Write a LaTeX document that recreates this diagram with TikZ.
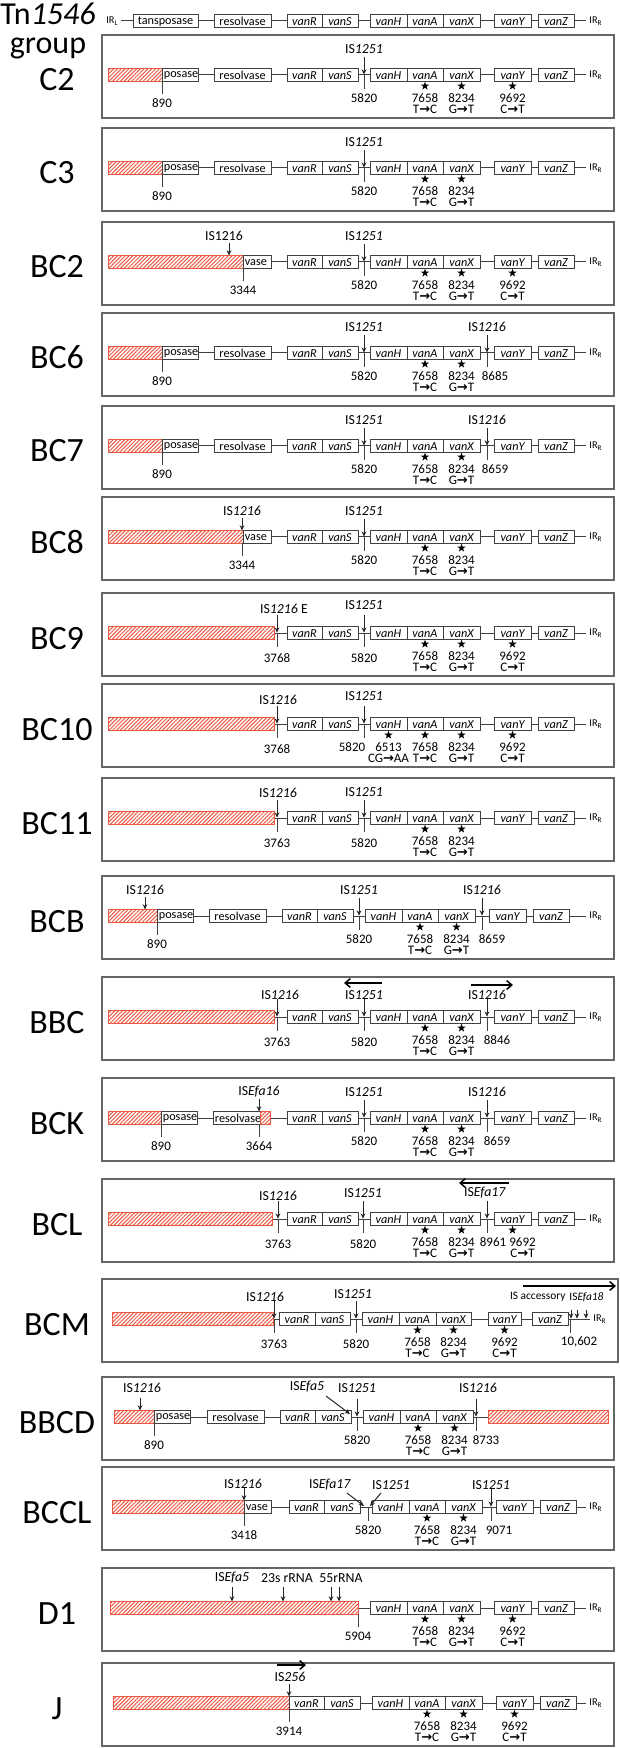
\documentclass[tikz,border=0pt]{standalone}
\usepackage{fontspec}
\setmainfont{Carlito}
\newfontfamily\symf{DejaVu Sans}
\usetikzlibrary{arrows.meta,patterns.meta,shapes.geometric}
\definecolor{hatchred}{RGB}{236,88,66}
\newcounter{nn}
\newcommand{\myra}{{\symf\bfseries →}}
\tikzset{
 gl/.style={draw=black!75, line width=0.5pt},
 gtxt/.style={font=\fontsize{6.1}{6}\selectfont\itshape, inner sep=0pt},
 ntxt/.style={font=\fontsize{6.5}{7}\selectfont, inner sep=0pt},
 istxt/.style={font=\fontsize{6.9}{7}\selectfont, inner sep=0pt},
 smtxt/.style={font=\fontsize{5.7}{6}\selectfont, inner sep=0pt},
 irtxt/.style={font=\fontsize{5.2}{6}\selectfont, inner sep=0pt},
 rowlab/.style={font=\fontsize{17}{18}\selectfont, inner sep=0pt},
 titlab/.style={font=\fontsize{16}{18}\selectfont, inner sep=0pt},
 hatchbox/.style={draw=hatchred, line width=0.5pt, pattern={Lines[angle=45,distance=1.35pt,line width=0.5pt]}, pattern color=hatchred},
 isarr/.style={draw=black!85, line width=0.5pt, -{Stealth[length=2.6pt,width=2.4pt]}},
 oarr/.style={draw=black, line width=0.75pt, -{Straight Barb[length=2.6pt,width=4.4pt]}},
 starn/.style={star, star points=5, star point ratio=2.5, fill=black, draw=none, inner sep=0pt, minimum size=4.4pt},
 pfr/.style={draw=black!60, line width=0.75pt},
}
% gene box, centred text
\newcommand{\gb}[3]{\stepcounter{nn}\draw[gl,fill=white] (#1,-6.3) rectangle (#2,6.3);\node[gtxt] (g\arabic{nn}) at ({(#1+#2)/2},0.3) {#3};}
% gene box, text from left edge (clipped name)
\newcommand{\gbl}[3]{\stepcounter{nn}\draw[gl,fill=white] (#1,-6.3) rectangle (#2,6.3);\node[gtxt,anchor=west] (g\arabic{nn}) at ({#1+1.5},0.3) {#3};}
\newcommand{\redblk}[2]{\draw[hatchbox] (#1,-6.3) rectangle (#2,6.3);}
\newcommand{\isa}[1]{\draw[isarr] (#1,-18) -- (#1,-0.4);}
\newcommand{\isb}[1]{\draw[isarr] (#1,-19) -- (#1,-6.6);}
\newcommand{\isl}[3][-26]{\stepcounter{nn}\node[istxt] (l\arabic{nn}) at (#2,#1) {#3};}
\newcommand{\tk}[3][23]{\stepcounter{nn}\draw[gl] (#2,0) -- (#2,14);\node[ntxt] (t\arabic{nn}) at (#2,#1) {#3};}
\newcommand{\tko}[3]{\stepcounter{nn}\draw[gl] (#1,0) -- (#1,14);\node[ntxt] (t\arabic{nn}) at ({#1+#2},23) {#3};}
\newcommand{\tkh}[2]{\stepcounter{nn}\draw[gl] (#1,6.3) -- (#1,19);\node[ntxt] (t\arabic{nn}) at (#1,28) {#2};}
\newcommand{\mt}[3]{\stepcounter{nn}\node[starn] (s\arabic{nn}) at (#1,11) {};\node[ntxt] (p\arabic{nn}) at (#1,23.5) {#2};\node[ntxt] (q\arabic{nn}) at (#1,34.5) {#3};}
\newcommand{\mto}[4]{\stepcounter{nn}\node[starn] (s\arabic{nn}) at (#1,11) {};\node[ntxt] (p\arabic{nn}) at ({#1+#2},23.5) {#3};\node[ntxt] (q\arabic{nn}) at ({#1+#2},34.5) {#4};}
\newcommand{\RS}{\gb{287}{322}{vanR}\gb{322}{358}{vanS}}
\newcommand{\HAX}{\gb{370}{407}{vanH}\gb{407}{443}{vanA}\gb{443}{480}{vanX}}
\newcommand{\YZ}{\gb{494}{531}{vanY}\gb{538}{574}{vanZ}}
\newcommand{\TR}{\gb{214}{271}{\upshape resolvase}}
\newcommand{\IRR}{\stepcounter{nn}\node[irtxt,anchor=west] (ir\arabic{nn}) at (589,0.5) {IR\textsubscript{R}};}
\newcommand{\mA}{\mt{425}{7658}{T\myra C}}
\newcommand{\mX}{\mt{461.5}{8234}{G\myra T}}
\newcommand{\mY}{\mt{512.5}{9692}{C\myra T}}
\newcommand{\ISa}{\isa{364}\isl{364}{IS\textit{1251}}\tk{364}{5820}}
\newcommand{\pframe}[2]{\stepcounter{nn}\draw[pfr] (102,-40) rectangle (#2,43);\node[rowlab,anchor=base] (r\arabic{nn}) at (57,16) {#1};}
\begin{document}
\begin{tikzpicture}[x=0.5pt,y=-0.5pt]
\useasboundingbox (0,0) rectangle (620,1748);
\node[titlab,anchor=base] (title1) at (48,25) {Tn\textit{1546}};
\node[titlab,anchor=base] (title2) at (48,54) {group};
% header
\begin{scope}[shift={(0,21)}]
\draw[gl] (121,0) -- (586,0);
\node[irtxt,anchor=east] (irl) at (119,0.5) {IR\textsubscript{L}};
\gb{133}{198}{\upshape tansposase}\TR\RS\HAX\YZ\IRR
\end{scope}
% C2
\begin{scope}[shift={(0,75)}]
\pframe{C2}{614}
\draw[gl] (162,0) -- (586,0);
\redblk{108}{162}\gbl{162}{198}{\upshape posase}\TR\RS\HAX\YZ\IRR
\tkh{162}{890}\ISa\mA\mX\mY
\end{scope}
% C3
\begin{scope}[shift={(0,168)}]
\pframe{C3}{614}
\draw[gl] (162,0) -- (586,0);
\redblk{108}{162}\gbl{162}{198}{\upshape posase}\TR\RS\HAX\YZ\IRR
\tkh{162}{890}\ISa\mA\mX
\end{scope}
% BC2
\begin{scope}[shift={(0,262)}]
\pframe{BC2}{614}
\draw[gl] (243,0) -- (586,0);
\redblk{108}{243}\gbl{243}{271}{\upshape vase}\RS\HAX\YZ\IRR
\isb{229}\isl{224}{IS1216}\tkh{243}{3344}\ISa\mA\mX\mY
\end{scope}
% BC6
\begin{scope}[shift={(0,353)}]
\pframe{BC6}{614}
\draw[gl] (162,0) -- (586,0);
\redblk{108}{162}\gbl{162}{198}{\upshape posase}\TR\RS\HAX\YZ\IRR
\tkh{162}{890}\ISa
\isa{487}\isl{487}{IS\textit{1216}}\tko{487}{8}{8685}
\mA\mX
\end{scope}
% BC7
\begin{scope}[shift={(0,446)}]
\pframe{BC7}{614}
\draw[gl] (162,0) -- (586,0);
\redblk{108}{162}\gbl{162}{198}{\upshape posase}\TR\RS\HAX\YZ\IRR
\tkh{162}{890}\ISa
\isa{487}\isl{487}{IS\textit{1216}}\tko{487}{8}{8659}
\mA\mX
\end{scope}
% BC8
\begin{scope}[shift={(0,537)}]
\pframe{BC8}{614}
\draw[gl] (243,0) -- (586,0);
\redblk{108}{243}\gbl{243}{271}{\upshape vase}\RS\HAX\YZ\IRR
\isb{242}\isl{242}{IS\textit{1216}}\tkh{242}{3344}\ISa\mA\mX
\end{scope}
% BC9
\begin{scope}[shift={(0,633)}]
\pframe{BC9}{614}
\draw[gl] (274,0) -- (586,0);
\redblk{108}{274}\RS\HAX\YZ\IRR
\isa{277}\isl[-24]{284}{IS\textit{1216} E}\tk[25]{277}{3768}
\isa{364}\isl[-28]{364}{IS\textit{1251}}\tk[25]{364}{5820}
\mA\mX\mY
\end{scope}
% BC10
\begin{scope}[shift={(0,724)}]
\pframe{BC10}{614}
\draw[gl] (274,0) -- (586,0);
\redblk{108}{274}\RS\HAX\YZ\IRR
\isa{277}\isl[-24]{278}{IS\textit{1216}}\tk[25]{277}{3768}
\isa{364}\isl[-28]{364}{IS\textit{1251}}\tko{364}{-12}{5820}
\mt{388.5}{6513}{CG\myra AA}\mA\mX\mY
\end{scope}
% BC11
\begin{scope}[shift={(0,818)}]
\pframe{BC11}{614}
\draw[gl] (274,0) -- (586,0);
\redblk{108}{274}\RS\HAX\YZ\IRR
\isa{277}\isl[-25]{278}{IS\textit{1216}}\tk[25]{277}{3763}
\isa{364}\isl[-26]{364}{IS\textit{1251}}\tk[25]{364}{5820}
\mA\mX
\end{scope}
% BCB
\begin{scope}[shift={(0,916)}]
\pframe{BCB}{614}
\draw[gl] (157,0) -- (586,0);
\redblk{108}{157}
\begin{scope}[shift={(-5,0)}]
\gbl{162}{198}{\upshape posase}\TR\RS\HAX\YZ
\isa{364}\isl{364}{IS\textit{1251}}\tk{364}{5820}
\isa{487}\isl{487}{IS\textit{1216}}\tko{487}{10}{8659}
\mA\mX
\end{scope}
\IRR
\isb{145}\isl{145}{IS\textit{1216}}\tkh{157}{890}
\end{scope}
% BBC
\begin{scope}[shift={(0,1017)}]
\pframe{BBC}{614}
\draw[gl] (274,0) -- (586,0);
\redblk{108}{274}\RS\HAX\YZ\IRR
\isa{277}\isl[-22]{280}{IS\textit{1216}}\tk[25]{277}{3763}
\isa{364}\isl[-22]{364}{IS\textit{1251}}\tk[25]{364}{5820}
\isa{487}\isl[-22]{487}{IS\textit{1216}}\tko{487}{10}{8846}
\coordinate (bbcL1) at (382,-34); \coordinate (bbcL2) at (344,-34);
\coordinate (bbcR1) at (471,-32); \coordinate (bbcR2) at (513,-32);
\draw[oarr] (bbcL1) -- (bbcL2);
\draw[oarr] (bbcR1) -- (bbcR2);
\mA\mX
\end{scope}
% BCK
\begin{scope}[shift={(0,1118)}]
\pframe{BCK}{614}
\draw[gl] (161,0) -- (586,0);
\redblk{108}{161}\gbl{161}{197}{\upshape posase}
\gbl{213}{270}{\upshape resolvase}\redblk{260}{270}
\RS\HAX\YZ\IRR
\tkh{161}{890}
\isb{259}\isl{259}{IS\textit{Efa16}}\tkh{259}{3664}
\ISa
\isa{487}\isl{487}{IS\textit{1216}}\tko{487}{10}{8659}
\mA\mX
\end{scope}
% BCL
\begin{scope}[shift={(0,1219)}]
\pframe{BCL}{614}
\draw[gl] (272,0) -- (586,0);
\redblk{108}{272}\RS\HAX\YZ\IRR
\isa{278}\isl[-23]{278}{IS\textit{1216}}\tk[25]{278}{3763}
\isa{363}\isl[-26]{363}{IS\textit{1251}}\tk[25]{363}{5820}
\isa{487}\isl[-26]{485}{IS\textit{Efa17}}\tko{487}{6}{8961}
\coordinate (bclA) at (509,-36); \coordinate (bclB) at (459,-36);
\draw[oarr] (bclA) -- (bclB);
\mA\mX\mto{512.5}{10}{9692}{C\myra T}
\end{scope}
% BCM
\begin{scope}[shift={(0,1319)}]
\pframe{BCM}{618}
\draw[gl] (273,0) -- (590,0);
\redblk{112}{273}
\gb{279}{315}{vanR}\gb{315}{350}{vanS}
\gb{362}{399}{vanH}\gb{399}{436}{vanA}\gb{436}{471}{vanX}
\gb{488}{521}{vanY}\gb{532}{568}{vanZ}
\node[irtxt,anchor=west] (irbcm) at (593,0.5) {IR\textsubscript{R}};
\isa{274}\isl[-22]{265}{IS\textit{1216}}\tk[25]{274}{3763}
\isa{356}\isl[-25]{353}{IS\textit{1251}}\tk[25]{356}{5820}
\mt{417.5}{7658}{T\myra C}\mt{453.5}{8234}{G\myra T}\mt{504.5}{9692}{C\myra T}
\draw[isarr] (571,-9) -- (571,-0.4);
\draw[isarr] (577,-9) -- (577,-0.4);
\draw[isarr] (586,-9) -- (586,-0.4);
\tko{570}{9}{10,602}
\node[smtxt,anchor=east] (isacc) at (566,-22) {IS accessory};
\node[smtxt,anchor=west] (isefa18) at (569,-22) {IS\textit{Efa18}};
\coordinate (bcmA) at (523,-33); \coordinate (bcmB) at (616,-33);
\draw[oarr] (bcmA) -- (bcmB);
\end{scope}
% BBCD
\begin{scope}[shift={(0,1417)}]
\pframe{BBCD}{614}
\draw[gl] (154,0) -- (488,0);
\redblk{114}{154}
\begin{scope}[shift={(-7,0)}]
\gbl{161}{197}{\upshape posase}\TR\RS\HAX
\isa{364}\isl[-29]{364}{IS\textit{1251}}\tk{364}{5820}
\isa{483}\isl[-29]{485}{IS\textit{1216}}\tko{483}{10}{8733}
\mA\mX
\end{scope}
\redblk{488}{608}
\isb{140}\isl[-29]{142}{IS\textit{1216}}\tkh{154}{890}
\isl[-30]{307}{IS\textit{Efa5}}
\coordinate (efa5a) at (326,-21); \coordinate (efa5b) at (350,-3);
\draw[isarr] (efa5a) -- (efa5b);
\end{scope}
% BCCL
\begin{scope}[shift={(0,1507)}]
\pframe{BCCL}{614}
\draw[gl] (244,0) -- (586,0);
\redblk{112}{244}\gbl{244}{271}{\upshape vase}
\begin{scope}[shift={(2,0)}]
\RS\HAX\YZ
\isa{489}\isl[-22]{489}{IS\textit{1251}}\tko{489}{8}{9071}
\mA\mX
\end{scope}
\IRR
\isb{244}\isl[-23]{243}{IS\textit{1216}}\tkh{244}{3418}
\isl[-22]{330}{IS\textit{Efa17}}
\isl[-22]{391}{IS\textit{1251}}
\coordinate (e17a) at (347,-14); \coordinate (e17b) at (364,-1);
\coordinate (i51a) at (381,-14); \coordinate (i51b) at (370,-1);
\draw[isarr] (e17a) -- (e17b);
\draw[isarr] (i51a) -- (i51b);
\tk{368}{5820}
\end{scope}
% D1
\begin{scope}[shift={(0,1608)}]
\pframe{D1}{614}
\draw[gl] (358,0) -- (586,0);
\redblk{110}{358}\HAX\YZ\IRR
\draw[isarr] (232,-21) -- (232,-6.6);
\draw[isarr] (283,-21) -- (283,-6.6);
\draw[isarr] (331,-21) -- (331,-6.6);
\draw[isarr] (339,-21) -- (339,-6.6);
\isl[-30]{232}{IS\textit{Efa5}}
\isl[-30]{287}{23s rRNA}
\isl[-30]{341}{55rRNA}
\tkh{358}{5904}
\mA\mX\mY
\end{scope}
% J
\begin{scope}[shift={(0,1703)}]
\pframe{J}{614}
\draw[gl] (289,0) -- (586,0);
\redblk{113}{289}
\begin{scope}[shift={(2,0)}]
\gb{287}{322}{vanR}\gb{322}{358}{vanS}\HAX\YZ\mA\mX\mY
\end{scope}
\IRR
\isb{289}\isl[-26]{290}{IS\textit{256}}
\coordinate (jA) at (277,-38); \coordinate (jB) at (306,-38);
\draw[oarr] (jA) -- (jB);
\tkh{289}{3914}
\end{scope}
\end{tikzpicture}
\end{document}
